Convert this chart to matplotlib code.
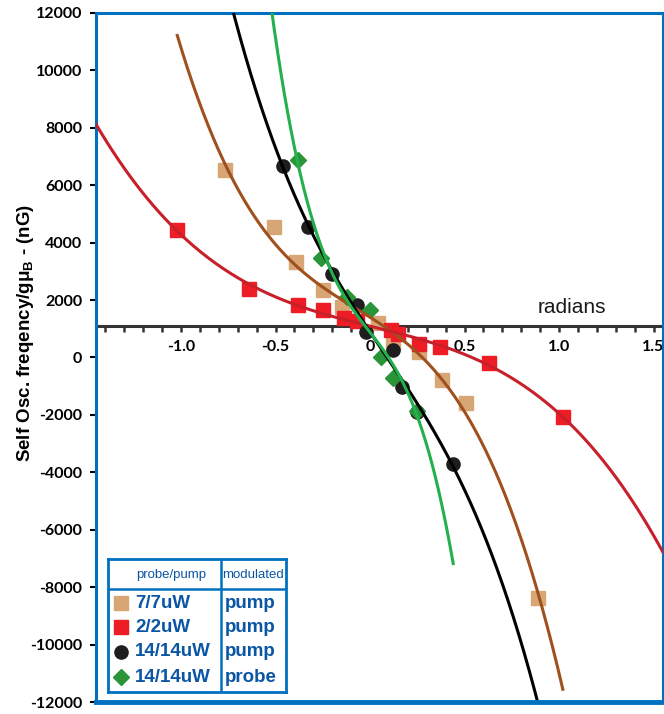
import matplotlib
matplotlib.use('Agg')
import matplotlib.pyplot as plt
from matplotlib.ticker import MultipleLocator, FuncFormatter
import numpy as np

plt.rcParams['font.family'] = ['Lato', 'DejaVu Sans']
plt.rcParams['axes.unicode_minus'] = False
plt.rcParams['mathtext.fontset'] = 'custom'
plt.rcParams['mathtext.rm'] = 'Liberation Sans:bold'

# 7/7uW, pump modulated
tan_x = [-0.77, -0.51, -0.39, -0.25, -0.15, 0.04, 0.12, 0.26, 0.38, 0.51, 0.89]
tan_y = [6530, 4530, 3330, 2350, 1750, 1200, 500, 200, -790, -1570, -8370]
# 2/2uW, pump modulated
red_x = [-1.02, -0.64, -0.38, -0.25, -0.14, -0.07, 0.11, 0.15, 0.26, 0.37, 0.63, 1.02]
red_y = [4450, 2380, 1820, 1660, 1360, 1280, 950, 820, 460, 380, -180, -2080]
# 14/14uW, pump modulated
blk_x = [-0.46, -0.33, -0.20, -0.07, -0.02, 0.12, 0.17, 0.25, 0.44]
blk_y = [6680, 4560, 2900, 1820, 890, 260, -1020, -1900, -3720]
# 14/14uW, probe modulated
grn_x = [-0.38, -0.26, -0.12, 0.00, 0.06, 0.12, 0.25]
grn_y = [6880, 3450, 2110, 1650, 0, -700, -1870]

# x range covered by each cubic trendline (clipped by the frame)
tan_span = (-1.02, 1.02)
red_span = (-1.45, 1.55)
blk_span = (-0.80, 0.90)
grn_span = (-0.60, 0.44)

labels = ['7/7uW', '2/2uW', '14/14uW', '14/14uW']
modulated = ['pump', 'pump', 'pump', 'probe']

BLUE = '#0070C0'
TXT = '#0B56A4'

series = [
    (tan_x, tan_y, tan_span, 's', '#D8A575', '#A0501E', 10),
    (red_x, red_y, red_span, 's', '#EE1C25', '#C8202A', 10),
    (blk_x, blk_y, blk_span, 'o', '#1E1E1E', '#000000', 9.5),
    (grn_x, grn_y, grn_span, 'D', '#2A9438', '#22B14C', 8),
]

fig = plt.figure(figsize=(6.64, 7.14), dpi=100)
ax = fig.add_axes([96 / 664, 1 - 702 / 714, 567 / 664, 689 / 714])

for x, y, span, mk, mc, lc, ms in series:
    ax.plot(x, y, linestyle='none', marker=mk, ms=ms, mfc=mc, mec=mc, zorder=3)
for x, y, span, mk, mc, lc, ms in series:
    coef = np.polyfit(x, y, 3)
    xs = np.linspace(span[0], span[1], 300)
    ax.plot(xs, np.polyval(coef, xs), color=lc, lw=2.2, zorder=4)

ax.set_xlim(-1.45, 1.55)
ax.set_ylim(-12000, 12000)

# x axis crosses the plot near the middle
ax.spines['bottom'].set_position(('data', 1100))
ax.spines['bottom'].set_color('#333333')
ax.spines['bottom'].set_linewidth(2.2)
ax.spines['bottom'].set_zorder(2)
for side in ['left', 'top', 'right']:
    ax.spines[side].set_color(BLUE)
    ax.spines[side].set_linewidth(2.2)
ax.plot([0, 1], [0, 0], transform=ax.transAxes, color=BLUE, lw=3.5, clip_on=False, zorder=5)

ax.xaxis.set_major_locator(MultipleLocator(0.5))
ax.xaxis.set_minor_locator(MultipleLocator(0.1))
ax.xaxis.set_major_formatter(FuncFormatter(lambda v, p: '0' if abs(v) < 1e-9 else f'{v:.1f}'))
ax.tick_params(axis='x', which='both', direction='out', length=4, width=1.8, color='#333333')
ax.tick_params(axis='x', which='major', pad=6, labelsize=11.5)
for t in ax.get_xticklabels():
    t.set_fontweight('bold')

ax.set_yticks(np.arange(-12000, 12001, 2000))
ax.tick_params(axis='y', direction='out', length=4, width=1.5, color='black', pad=6, labelsize=11.5)
for t in ax.get_yticklabels():
    t.set_fontweight('bold')

ax.set_ylabel(r'Self Osc. freqency/gμ$_\mathregular{B}$ - (nG)', fontsize=13.5,
              fontweight='bold', family=['Liberation Sans', 'DejaVu Sans'])
ax.yaxis.set_label_coords(-0.106, 0.535)

ax.text(1.07, 1750, 'radians', fontsize=15, ha='center', va='center', color='#1a1a1a',
        family=['Liberation Sans', 'DejaVu Sans'])

# legend drawn as a small table
lg = fig.add_axes([108 / 664, 1 - 692 / 714, 178 / 664, 133 / 714])
lg.set_xlim(0, 178)
lg.set_ylim(133, 0)
lg.set_xticks([])
lg.set_yticks([])
for s in lg.spines.values():
    s.set_color(BLUE)
    s.set_linewidth(2)
lg.axvline(113, color=BLUE, lw=1.8)
lg.axhline(30, color=BLUE, lw=1.8)
head = ['Liberation Sans', 'DejaVu Sans']
lg.text(63.5, 16, 'probe/pump', ha='center', va='center', fontsize=9.5, color=TXT, family=head)
lg.text(145, 16, 'modulated', ha='center', va='center', fontsize=9.5, color=TXT, family=head)
rows = [44, 68, 93, 118]
for (x, y, span, mk, mc, lc, ms), lab, mod, ry in zip(series, labels, modulated, rows):
    lg.plot([13], [ry], marker=mk, ms=ms, mfc=mc, mec=mc, linestyle='none')
    lg.text(27, ry, lab, ha='left', va='center', fontsize=13.5, fontweight='bold',
            color=TXT, family=head)
    lg.text(117, ry, mod, ha='left', va='center', fontsize=13.5, fontweight='bold',
            color=TXT, family=head)

fig.savefig('out.png', dpi=100)
